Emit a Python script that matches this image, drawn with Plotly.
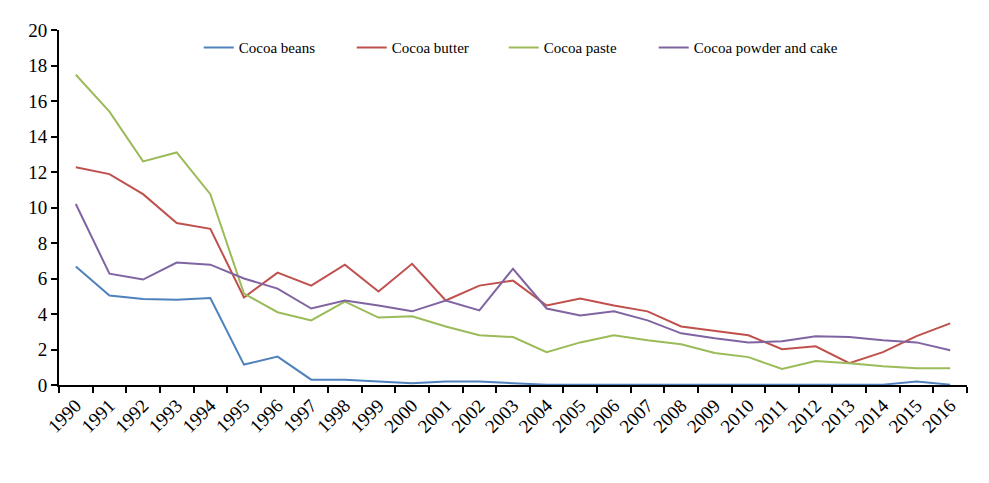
import plotly.graph_objects as go

years = [str(y) for y in range(1990, 2017)]

cocoa_beans = [6.67, 5.04, 4.85, 4.8, 4.9, 1.15, 1.6, 0.3, 0.3, 0.2, 0.1, 0.2, 0.2, 0.1,
               0.02, 0.02, 0.02, 0.02, 0.02, 0.02, 0.02, 0.02, 0.02, 0.02, 0.02, 0.2, 0.02]
cocoa_butter = [12.27, 11.88, 10.75, 9.13, 8.8, 4.93, 6.33, 5.6, 6.78, 5.27, 6.83, 4.76, 5.6, 5.88,
                4.48, 4.87, 4.48, 4.15, 3.3, 3.03, 2.8, 2.02, 2.18, 1.23, 1.85, 2.75, 3.47]
cocoa_paste = [17.48, 15.4, 12.6, 13.1, 10.75, 5.15, 4.1, 3.64, 4.7, 3.8, 3.87, 3.3, 2.8, 2.7,
               1.85, 2.4, 2.8, 2.52, 2.3, 1.8, 1.57, 0.9, 1.35, 1.23, 1.06, 0.95, 0.95]
cocoa_powder = [10.2, 6.27, 5.94, 6.9, 6.78, 6.0, 5.43, 4.31, 4.76, 4.48, 4.15, 4.76, 4.2, 6.55,
                4.31, 3.92, 4.15, 3.64, 2.91, 2.63, 2.4, 2.46, 2.75, 2.7, 2.52, 2.4, 1.96]

series = [
    ("Cocoa beans", cocoa_beans, "#4F81BD"),
    ("Cocoa butter", cocoa_butter, "#C0504D"),
    ("Cocoa paste", cocoa_paste, "#9BBB59"),
    ("Cocoa powder and cake", cocoa_powder, "#8064A2"),
]
legend_ids = ["legend", "legend2", "legend3", "legend4"]
legend_x = [0.1539, 0.3224, 0.4898, 0.6550]

font = "Liberation Serif, Times New Roman, serif"

fig = go.Figure()
for (name, vals, color), lid in zip(series, legend_ids):
    fig.add_trace(go.Scatter(x=years, y=vals, mode="lines", name=name, legend=lid,
                             line=dict(color=color, width=2)))

legend_common = dict(orientation="h", xanchor="left", y=0.95, yanchor="middle",
                     font=dict(size=15, family=font), bgcolor="rgba(0,0,0,0)",
                     itemwidth=30)
layout_legends = {lid: dict(legend_common, x=lx) for lid, lx in zip(legend_ids, legend_x)}

fig.update_layout(
    width=989, height=483,
    margin=dict(l=51, r=30, t=20, b=106),
    paper_bgcolor="white", plot_bgcolor="white",
    font=dict(family=font, color="black"),
    showlegend=True,
    **layout_legends,
)
fig.update_xaxes(type="category", range=[-0.5, 26.5], tickson="boundaries",
                 showline=True, linecolor="black", linewidth=2,
                 ticks="outside", ticklen=6, tickcolor="black", tickwidth=2,
                 tickangle=-45, tickfont=dict(size=19, family=font),
                 showgrid=False, zeroline=False)
fig.update_yaxes(range=[0, 20], dtick=2, showline=True, linecolor="black", linewidth=2,
                 ticks="outside", ticklen=6, tickcolor="black", tickwidth=2,
                 tickfont=dict(size=19, family=font), showgrid=False, zeroline=False)

fig.write_html("out.html")
